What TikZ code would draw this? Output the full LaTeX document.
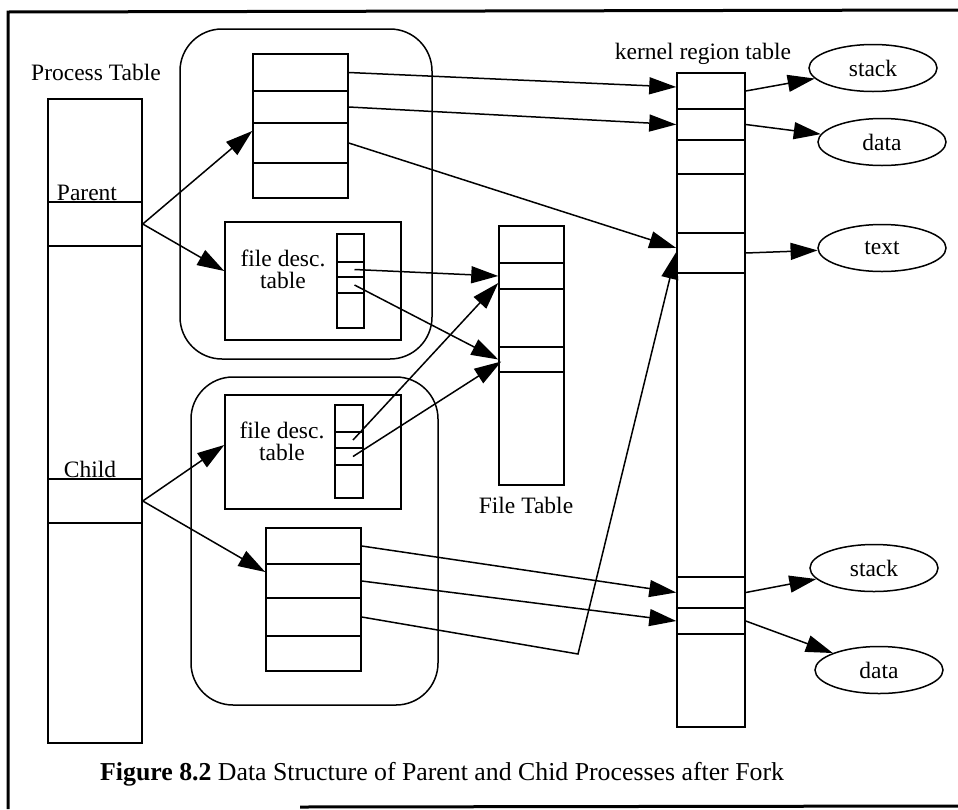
\documentclass[tikz,border=0pt]{standalone}
\usepackage{fontspec}
\setmainfont{Liberation Serif}
\usetikzlibrary{arrows.meta,shapes.geometric}

\tikzset{
  cell/.style={draw, line width=1.5pt, inner sep=0pt, minimum width=#1},
  rbox/.style={draw, line width=1.5pt, rounded corners=42pt, inner sep=0pt},
  seg/.style={draw, ellipse, line width=1.5pt, minimum width=128pt, minimum height=47pt, inner sep=0pt, font=\lbl},
  arr/.style={line width=1.5pt, -{Triangle[length=27pt,width=17pt]}},
  lab/.style={inner sep=0pt, anchor=base, font=\lbl},
  frame/.style={line width=3pt},
}
\newcommand{\lbl}{\fontsize{23.5}{22}\selectfont}

\begin{document}
\begin{tikzpicture}[x=1pt, y=-1pt]
\useasboundingbox (0,0) rectangle (958,809);

% outer frame
\draw[frame] (8,809) -- (8,12) -- (960,10);
\draw[frame] (300,807) -- (960,806);

% process table
\node[lab] (ptlab) at (96,80) {Process Table};
\node[cell=94pt, minimum height=103pt] (pt0)    at (95,150.5) {};
\node[cell=94pt, minimum height=44pt]  (parent) at (95,224) {};
\node[cell=94pt, minimum height=233pt] (pt2)    at (95,362.5) {};
\node[cell=94pt, minimum height=44pt]  (child)  at (95,501) {};
\node[cell=94pt, minimum height=220pt] (pt4)    at (95,633) {};
\node[lab] (parlab) at (87,200) {Parent};
\node[lab] (chlab)  at (90,477) {Child};

% parent u area
\node[rbox, minimum width=252pt, minimum height=330pt] (ua) at (306,194) {};
\node[cell=95pt, minimum height=37pt] (ur1) at (300.5,72.5) {};
\node[cell=95pt, minimum height=32pt] (ur2) at (300.5,107) {};
\node[cell=95pt, minimum height=40pt] (ur3) at (300.5,143) {};
\node[cell=95pt, minimum height=35pt] (ur4) at (300.5,180.5) {};
\node[cell=176pt, minimum height=118pt] (fda) at (313,281) {};
\node[lab, anchor=center, align=center] (fdalab) at (283,269) {file desc.\\table};
\node[cell=27pt, minimum height=28pt] (fa1) at (350.5,248) {};
\node[cell=27pt, minimum height=15pt] (fa2) at (350.5,269.5) {};
\node[cell=27pt, minimum height=16pt] (fa3) at (350.5,285) {};
\node[cell=27pt, minimum height=35pt] (fa4) at (350.5,310.5) {};

% child u area
\node[rbox, minimum width=247pt, minimum height=328pt] (ub) at (314.5,541) {};
\node[cell=176pt, minimum height=114pt] (fdb) at (313,452) {};
\node[lab, anchor=center, align=center] (fdblab) at (282,441) {file desc.\\table};
\node[cell=28pt, minimum height=27pt] (fb1) at (349,418.5) {};
\node[cell=28pt, minimum height=16pt] (fb2) at (349,440) {};
\node[cell=28pt, minimum height=17pt] (fb3) at (349,456.5) {};
\node[cell=28pt, minimum height=33pt] (fb4) at (349,481.5) {};
\node[cell=95pt, minimum height=36pt] (lr1) at (313.5,546) {};
\node[cell=95pt, minimum height=34pt] (lr2) at (313.5,581) {};
\node[cell=95pt, minimum height=38pt] (lr3) at (313.5,617) {};
\node[cell=95pt, minimum height=35pt] (lr4) at (313.5,653.5) {};

% file table
\node[cell=65pt, minimum height=37pt]  (ft1) at (531.5,244.5) {};
\node[cell=65pt, minimum height=26pt]  (ft2) at (531.5,276) {};
\node[cell=65pt, minimum height=58pt]  (ft3) at (531.5,318) {};
\node[cell=65pt, minimum height=25pt]  (ft4) at (531.5,359.5) {};
\node[cell=65pt, minimum height=113pt] (ft5) at (531.5,428.5) {};
\node[lab] (ftlab) at (526,513) {File Table};

% kernel region table
\node[lab] (krlab) at (703,59) {kernel region table};
\node[cell=68pt, minimum height=36pt]  (kr1) at (711,91) {};
\node[cell=68pt, minimum height=31pt]  (kr2) at (711,124.5) {};
\node[cell=68pt, minimum height=34pt]  (kr3) at (711,157) {};
\node[cell=68pt, minimum height=59pt]  (kr4) at (711,203.5) {};
\node[cell=68pt, minimum height=40pt]  (kr5) at (711,253) {};
\node[cell=68pt, minimum height=304pt] (kr6) at (711,425) {};
\node[cell=68pt, minimum height=31pt]  (kr7) at (711,592.5) {};
\node[cell=68pt, minimum height=26pt]  (kr8) at (711,621) {};
\node[cell=68pt, minimum height=93pt]  (kr9) at (711,680.5) {};

% regions
\node[seg] (stack1) at (873,68)  {stack};
\node[seg] (data1)  at (882,142) {data};
\node[seg] (text1)  at (882,248) {text};
\node[seg] (stack2) at (874,568) {stack};
\node[seg] (data2)  at (879,670) {data};

% process table to u areas
\draw[arr] (parent.east) -- ([yshift=12pt]ur3.west);
\draw[arr] (parent.east) -- ([yshift=10pt]fda.west);
\draw[arr] (child.east) -- ([yshift=7pt]fdb.west);
\draw[arr] (child.east) -- ([yshift=9pt]lr2.west);

% per process region tables to kernel region table
\draw[arr] (ur1.east) -- ([yshift=4pt]kr1.west);
\draw[arr] (ur2.east) -- (kr2.west);
\draw[arr] (ur3.east) -- ([yshift=5pt]kr5.west);
\draw[arr] (lr1.east) -- (kr7.west);
\draw[arr] (lr2.east) -- (kr8.west);
\coordinate (bend) at (578,654);
\draw[arr] (lr3.east) -- (bend) -- ([yshift=1pt]kr5.west);

% file descriptors to file table
\draw[arr] ([xshift=4pt]fa2.center) -- (ft2.west);
\draw[arr] ([xshift=4pt]fa3.center) -- (ft4.west);
\draw[arr] ([xshift=4pt]fb2.center) -- ([yshift=-7pt]ft2.west);
\draw[arr] ([xshift=4pt]fb3.center) -- ([xshift=3pt,yshift=-2pt]ft4.west);

% kernel regions
\draw[arr] (kr1.east) -- (stack1);
\draw[arr] (kr2.east) -- (data1);
\draw[arr] (kr5.east) -- (text1);
\draw[arr] (kr7.east) -- (stack2);
\draw[arr] (kr8.east) -- (data2);

% caption
\node[inner sep=0pt, anchor=base west, font=\fontsize{25.8}{26}\selectfont] (cap) at (100,780)
  {\textbf{Figure 8.2} Data Structure of Parent and Chid Processes after Fork};
\end{tikzpicture}
\end{document}
